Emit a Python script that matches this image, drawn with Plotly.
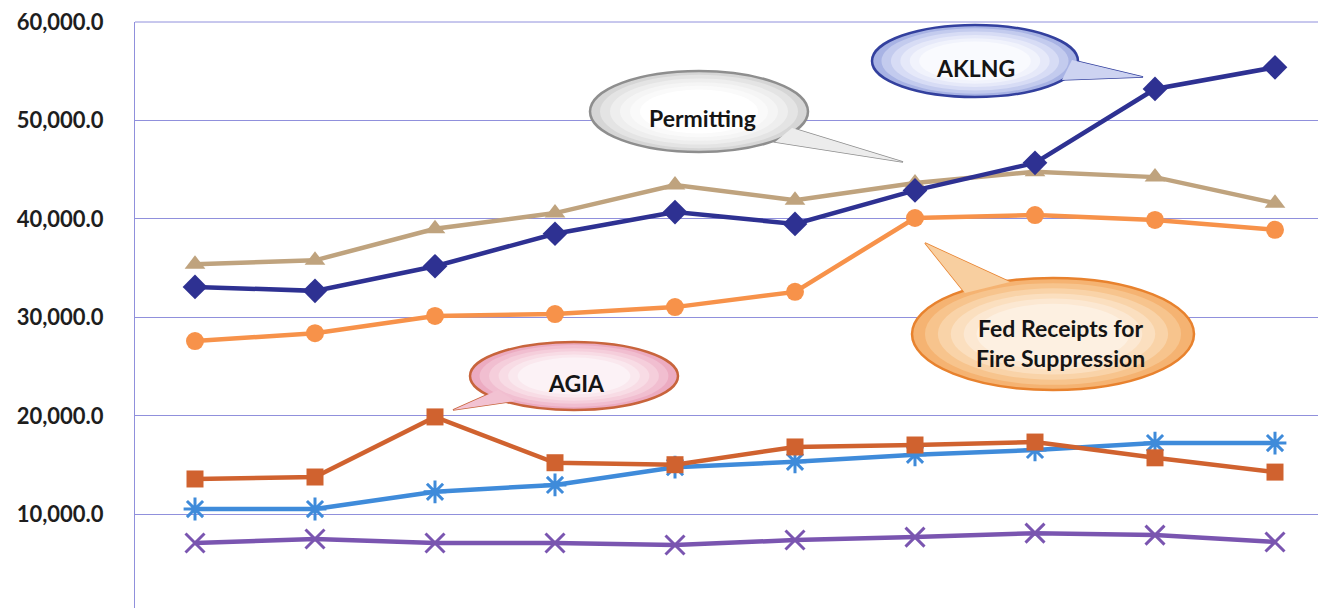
import plotly.graph_objects as go

# ---- data ----
categories = ["FY05", "FY06", "FY07", "FY08", "FY09", "FY10", "FY11", "FY12", "FY13", "FY14"]
aklng = [33100, 32700, 35200, 38500, 40700, 39500, 42900, 45700, 53200, 55400]
permitting = [35400, 35800, 39000, 40600, 43450, 41900, 43650, 44800, 44250, 41600]
fed_fire = [27600, 28400, 30150, 30350, 31050, 32600, 40100, 40400, 39900, 38900]
agia = [13600, 13800, 19900, 15250, 15050, 16850, 17050, 17350, 15750, 14300]
series_blue = [10550, 10550, 12300, 13000, 14800, 15350, 16050, 16550, 17250, 17250]
series_purple = [7100, 7500, 7100, 7100, 6900, 7400, 7700, 8100, 7900, 7200]
y_ticks = [10000, 20000, 30000, 40000, 50000, 60000]

# page body has an 8px margin, so the figure is drawn from (8, 8)
OFF = 8
W, H = 1326 - OFF, 608 - OFF
ML, MT = 135 - OFF, 22 - OFF
PW, PH = W - ML, H - MT

def px(x):
    # x given in reference-picture pixels
    return (x - OFF - ML) / PW

def py(y):
    return (H - (y - OFF)) / PH

fig = go.Figure()

def add_series(vals, name, color, symbol, size, open_marker=False):
    fig.add_trace(go.Scatter(
        x=categories, y=vals, name=name, mode="lines+markers",
        line=dict(color=color, width=4.5),
        marker=dict(symbol=symbol, size=size, color=color,
                    line=dict(color=color, width=3 if open_marker else 0)),
        cliponaxis=False,
    ))

add_series(series_purple, "Series 6", "#7A55B0", "x-thin-open", 19, True)
add_series(series_blue, "Series 5", "#3F8BDA", "asterisk-open", 19, True)
add_series(agia, "AGIA", "#D0622F", "square", 17)
add_series(fed_fire, "Fed Receipts for Fire Suppression", "#F7924A", "circle", 18)
add_series(permitting, "Permitting", "#BFA37E", "triangle-up", 18)
add_series(aklng, "AKLNG", "#2E3192", "diamond", 19)

shapes = []
annotations = []

# top border of the plot area (60,000 gridline)
shapes.append(dict(type="line", xref="paper", yref="paper", x0=0, x1=1, y0=1, y1=1,
                   line=dict(color="#9090DC", width=1), layer="below"))

def bubble(x0, y0, x1, y1, tail, edge, layers, tailfill, text_lines, tcx, tcy, fsize=23):
    path = "M {} {} L {} {} L {} {} Z".format(px(tail[0][0]), py(tail[0][1]),
                                            px(tail[1][0]), py(tail[1][1]),
                                            px(tail[2][0]), py(tail[2][1]))
    shapes.append(dict(type="path", xref="paper", yref="paper", path=path,
                       fillcolor=tailfill, line=dict(color=edge, width=1.5), layer="above"))
    shapes.append(dict(type="circle", xref="paper", yref="paper",
                       x0=px(x0), x1=px(x1), y0=py(y1), y1=py(y0),
                       fillcolor=layers[0], line=dict(color=edge, width=2.5), layer="above"))
    n = len(layers)
    for i, c in enumerate(layers[1:], start=1):
        f = 0.55 * i / n
        dx = (x1 - x0) * f / 2
        dy = (y1 - y0) * f / 2
        shapes.append(dict(type="circle", xref="paper", yref="paper",
                           x0=px(x0 + dx), x1=px(x1 - dx), y0=py(y1 - dy), y1=py(y0 + dy),
                           fillcolor=c, line=dict(width=0), layer="above"))
    shapes.append(dict(type="path", xref="paper", yref="paper", path=path,
                       fillcolor=tailfill, line=dict(width=0), layer="above"))
    annotations.append(dict(xref="paper", yref="paper", x=px(tcx), y=py(tcy),
                            xanchor="center", yanchor="middle",
                            text="<br>".join(text_lines), showarrow=False,
                            font=dict(family="Lato", size=fsize, color="#151515", weight="bold"),
                            align="center"))

# AKLNG
bubble(872, 25, 1078, 97,
       [(1072, 60), (1143, 77), (1062, 80)],
       "#33409E", ["#A8B3E4", "#C3CBEE", "#D7DCF5", "#E6E9F9", "#F1F3FC", "#F9FAFE"],
       "#CDD3F1", ["AKLNG"], 975, 68)
# Permitting
bubble(590, 71, 808, 152,
       [(792, 128), (903, 162), (775, 142)],
       "#8E8E8E", ["#D6D6D6", "#E4E4E4", "#EEEEEE", "#F5F5F5", "#FAFAFA", "#FFFFFF"],
       "#ECECEC", ["Permitting"], 702, 118)
# Fed Receipts for Fire Suppression
bubble(912, 278, 1194, 390,
       [(1010, 282), (925, 243), (965, 293)],
       "#E8822E", ["#F5B372", "#F7C48D", "#F9D3A8", "#FBDFBF", "#FCE8D2", "#FDF0E1"],
       "#F8CFA0", ["Fed Receipts for", "Fire Suppression"], 1060, 343)
# AGIA
bubble(470, 342, 678, 410,
       [(498, 390), (453, 410), (515, 401)],
       "#C8643C", ["#ECABC1", "#F1BED0", "#F5CEDB", "#F8DCE5", "#FAE8EE", "#FCF2F6"],
       "#F2C2D2", ["AGIA"], 576, 383)

fig.update_layout(
    width=W, height=H,
    margin=dict(l=ML, r=0, t=MT, b=0),
    paper_bgcolor="white", plot_bgcolor="white",
    showlegend=False,
    shapes=shapes, annotations=annotations,
    xaxis=dict(range=[-0.5, 9.425], showticklabels=False, showgrid=False,
               zeroline=False, showline=False, ticks=""),
    yaxis=dict(range=[500, 60000], tickvals=y_ticks, tickformat=",.1f",
               showgrid=True, gridcolor="#9090DC", gridwidth=1,
               showline=True, linecolor="#9090DC", linewidth=1,
               zeroline=False, ticks="", ticklabelstandoff=26,
               ticklabeloverflow="allow",
               tickfont=dict(family="Lato", size=22, color="#1E1E1E", weight="bold")),
)

fig.write_html("out.html")
